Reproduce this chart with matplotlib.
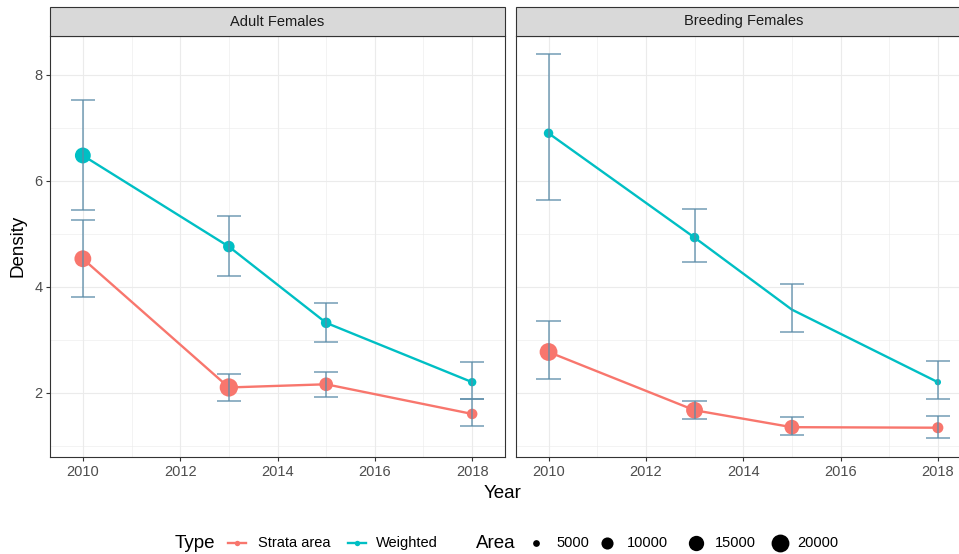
import matplotlib

matplotlib.use("Agg")

import matplotlib.pyplot as plt
import numpy as np
from matplotlib.patches import Rectangle

# ---- data ----
YEARS = [2010, 2013, 2015, 2018]
PANELS = ["Adult Females", "Breeding Females"]
TYPES = ["Strata area", "Weighted"]

# density, lower / upper error bounds, area (NaN = no point drawn)
ADULT_STRATA = [4.53, 2.10, 2.16, 1.60]
ADULT_STRATA_LO = [3.81, 1.85, 1.92, 1.38]
ADULT_STRATA_HI = [5.26, 2.35, 2.40, 1.89]
ADULT_STRATA_AREA = [17900, 21000, 12250, 8100]

ADULT_WEIGHTED = [6.48, 4.76, 3.32, 2.20]
ADULT_WEIGHTED_LO = [5.45, 4.21, 2.95, 1.89]
ADULT_WEIGHTED_HI = [7.53, 5.34, 3.70, 2.59]
ADULT_WEIGHTED_AREA = [16000, 9300, 8100, 6100]

BREED_STRATA = [2.77, 1.67, 1.35, 1.34]
BREED_STRATA_LO = [2.26, 1.51, 1.20, 1.15]
BREED_STRATA_HI = [3.36, 1.85, 1.54, 1.57]
BREED_STRATA_AREA = [20000, 17900, 14000, 8700]

BREED_WEIGHTED = [6.90, 4.93, 3.57, 2.20]
BREED_WEIGHTED_LO = [5.64, 4.47, 3.15, 1.875]
BREED_WEIGHTED_HI = [8.39, 5.47, 4.05, 2.60]
BREED_WEIGHTED_AREA = [7000, 7000, np.nan, 4800]

AREA_BREAKS = [5000, 10000, 15000, 20000]
AREA_LIMITS = (4000, 21000)

COLORS = {"Strata area": "#F8766D", "Weighted": "#00BFC4"}
ERR_COLOR = "#5B8CA8"
DPI = 100

plt.rcParams["font.family"] = ["Liberation Sans", "DejaVu Sans"]


def marker_area(area):
    # ggplot-like area scale: size 1..6, ~3 px per unit
    a = np.asarray(area, dtype=float)
    frac = np.clip((a - AREA_LIMITS[0]) / (AREA_LIMITS[1] - AREA_LIMITS[0]), 0, 1)
    diam_px = 3.05 * (1 + 5 * np.sqrt(frac))
    diam_pt = diam_px * 72 / DPI
    return diam_pt ** 2


def px_axes(x0, y0, x1, y1):
    return [x0 / 959, 1 - y1 / 554, (x1 - x0) / 959, (y1 - y0) / 554]


fig = plt.figure(figsize=(9.59, 5.54), dpi=DPI, facecolor="white")

panel_data = {
    "Adult Females": {
        "Strata area": (ADULT_STRATA, ADULT_STRATA_LO, ADULT_STRATA_HI, ADULT_STRATA_AREA),
        "Weighted": (ADULT_WEIGHTED, ADULT_WEIGHTED_LO, ADULT_WEIGHTED_HI, ADULT_WEIGHTED_AREA),
    },
    "Breeding Females": {
        "Strata area": (BREED_STRATA, BREED_STRATA_LO, BREED_STRATA_HI, BREED_STRATA_AREA),
        "Weighted": (BREED_WEIGHTED, BREED_WEIGHTED_LO, BREED_WEIGHTED_HI, BREED_WEIGHTED_AREA),
    },
}

panel_left = [50, 515.7]
panel_w = 455
top, bottom = 36, 457
strip_h = 29

for i, name in enumerate(PANELS):
    ax = fig.add_axes(px_axes(panel_left[i], top, panel_left[i] + panel_w, bottom))
    ax.set_facecolor("white")
    years = np.array(YEARS)
    for t in TYPES:
        y, lo, hi, area = panel_data[name][t]
        ax.plot(years, y, color=COLORS[t], lw=1.7, zorder=3, solid_capstyle="round")
        ax.scatter(years, y, s=marker_area(area), color=COLORS[t], zorder=4, linewidths=0)
        ax.vlines(years, lo, hi, color=ERR_COLOR, lw=1.1, alpha=0.85, zorder=5)
        ax.hlines(lo, years - 0.25, years + 0.25, color=ERR_COLOR, lw=1.1, alpha=0.85, zorder=5)
        ax.hlines(hi, years - 0.25, years + 0.25, color=ERR_COLOR, lw=1.1, alpha=0.85, zorder=5)

    ax.set_xlim(2009.325, 2018.675)
    ax.set_ylim(0.787, 8.736)
    ax.set_xticks([2010, 2012, 2014, 2016, 2018])
    ax.set_xticks([2011, 2013, 2015, 2017], minor=True)
    ax.set_yticks([2, 4, 6, 8])
    ax.set_yticks([1, 3, 5, 7], minor=True)
    ax.grid(which="major", color="#EBEBEB", lw=0.8, zorder=0)
    ax.grid(which="minor", color="#EBEBEB", lw=0.4, zorder=0)
    ax.set_axisbelow(True)
    for sp in ax.spines.values():
        sp.set_color("#333333")
        sp.set_linewidth(0.8)
    ax.tick_params(which="major", length=3, width=0.8, color="#333333",
                   labelsize=10.5, labelcolor="#4D4D4D", pad=2.5)
    ax.tick_params(which="minor", length=0)
    if i > 0:
        ax.tick_params(axis="y", labelleft=False, length=0)

    # facet strip
    sh = strip_h / (bottom - top)
    ax.add_patch(Rectangle((0, 1), 1, sh, transform=ax.transAxes, facecolor="#D9D9D9",
                           edgecolor="#333333", lw=0.8, clip_on=False, zorder=6))
    ax.text(0.5, 1 + sh / 2, name, transform=ax.transAxes, ha="center", va="center",
            fontsize=10.5, color="#1A1A1A", zorder=7)

fig.text(18 / 959, 1 - 246 / 554, "Density", rotation=90, ha="center", va="center", fontsize=13.5)
fig.text(503 / 959, 1 - 493 / 554, "Year", ha="center", va="center", fontsize=13.5)

# ---- legend drawn in pixel coordinates ----
lg = fig.add_axes([0, 0, 1, 1], facecolor="none")
lg.set_xlim(0, 959)
lg.set_ylim(554, 0)
lg.set_axis_off()
ly = 543
lg.text(175, ly, "Type", ha="left", va="center", fontsize=13.5)
type_keys = [(237, 258), (357, 376)]
for (kx, tx), t in zip(type_keys, TYPES):
    lg.plot([kx - 9, kx + 9], [ly, ly], color=COLORS[t], lw=1.7)
    lg.scatter([kx], [ly], s=marker_area(4400), color=COLORS[t], linewidths=0)
    lg.text(tx, ly, t, ha="left", va="center", fontsize=10.5)

lg.text(476, ly, "Area", ha="left", va="center", fontsize=13.5)
area_keys = [(536, 556), (607, 627), (696, 715), (780, 797)]
for (kx, tx), a in zip(area_keys, AREA_BREAKS):
    lg.scatter([kx], [ly], s=marker_area(a), color="black", linewidths=0)
    lg.text(tx, ly, str(a), ha="left", va="center", fontsize=10.5)

fig.savefig("out.png", dpi=DPI, facecolor="white")
